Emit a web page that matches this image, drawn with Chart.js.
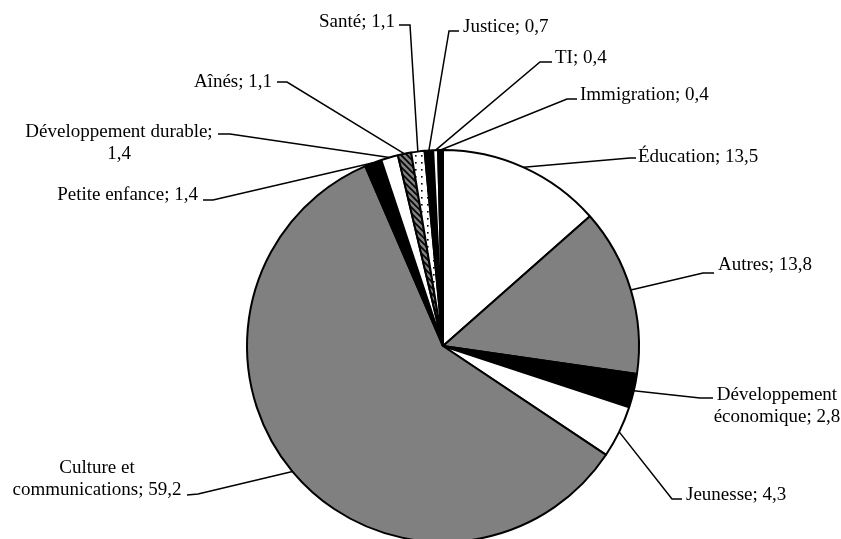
<!DOCTYPE html>
<html>
<head>
<meta charset="utf-8">
<script src="https://cdn.jsdelivr.net/npm/chart.js@4.4.0/dist/chart.umd.min.js"></script>
<style>
  html, body { margin: 0; padding: 0; background: #fff; overflow: hidden; }
  #wrap { width: 841px; height: 539px; overflow: hidden; }
  #graph { display: block; }
</style>
</head>
<body>
<div id="wrap"><canvas id="graph" width="841" height="600"></canvas></div>
<script>
// data, clockwise from 12 o'clock
var categories = ['Éducation', 'Autres', 'Développement économique', 'Jeunesse',
  'Culture et communications', 'Petite enfance', 'Développement durable', 'Aînés',
  'Santé', 'Justice', 'TI', 'Immigration'];
var shares = [13.5, 13.8, 2.8, 4.3, 59.2, 1.4, 1.4, 1.1, 1.1, 0.7, 0.4, 0.4];
// how many words go on the first line of a label (0 = one line)
var firstLineWords = [0, 0, 1, 0, 2, 0, 2, 0, 0, 0, 0, 0];

// label placement: text anchor (baseline of first line), leader elbow and end
var labelLayout = [
  { x: 638, y: 162, align: 'left',   elbow: [630, 158], end: [636, 158] },
  { x: 718, y: 270, align: 'left',   elbow: [703, 273], end: [714, 273] },
  { x: 777, y: 400, align: 'center', elbow: [700, 398], end: [713, 398] },
  { x: 686, y: 500, align: 'left',   elbow: [672, 499], end: [682, 499] },
  { x: 97,  y: 473, align: 'center', elbow: [198, 494], end: [187, 495] },
  { x: 198, y: 200, align: 'right',  elbow: [213, 200], end: [203, 200] },
  { x: 119, y: 137, align: 'center', elbow: [230, 134], end: [218, 134] },
  { x: 272, y: 87,  align: 'right',  elbow: [287, 82],  end: [277, 82] },
  { x: 395, y: 27,  align: 'right',  elbow: [410, 25],  end: [399, 25] },
  { x: 463, y: 32,  align: 'left',   elbow: [449, 31],  end: [459, 31] },
  { x: 555, y: 63,  align: 'left',   elbow: [540, 62],  end: [552, 62] },
  { x: 580, y: 100, align: 'left',   elbow: [567, 99],  end: [577, 99] }
];

function makeStripes() {
  var c = document.createElement('canvas');
  c.width = 6; c.height = 6;
  var g = c.getContext('2d');
  g.fillStyle = '#808080';
  g.fillRect(0, 0, 6, 6);
  g.strokeStyle = '#000';
  g.lineWidth = 1.6;
  g.beginPath();
  g.moveTo(-1, -1); g.lineTo(7, 7);
  g.moveTo(-4, 2); g.lineTo(4, 10);
  g.moveTo(2, -4); g.lineTo(10, 4);
  g.stroke();
  return g.createPattern(c, 'repeat');
}

function makeDots() {
  var c = document.createElement('canvas');
  c.width = 6; c.height = 7;
  var g = c.getContext('2d');
  g.fillStyle = '#fff';
  g.fillRect(0, 0, 6, 7);
  g.fillStyle = '#000';
  g.fillRect(1, 1, 1.6, 1.6);
  return g.createPattern(c, 'repeat');
}

var fills = ['#ffffff', '#808080', '#000000', '#ffffff', '#808080', '#000000',
  '#ffffff', makeStripes(), makeDots(), '#000000', '#ffffff', '#000000'];

function labelLines(i) {
  var text = categories[i] + '; ' + String(shares[i]).replace('.', ',');
  var n = firstLineWords[i];
  if (!n) return [text];
  var words = text.split(' ');
  return [words.slice(0, n).join(' '), words.slice(n).join(' ')];
}

var leaderLabels = {
  id: 'leaderLabels',
  afterDraw: function (chart) {
    var ctx = chart.ctx;
    var arcs = chart.getDatasetMeta(0).data;
    ctx.save();
    ctx.strokeStyle = '#000';
    ctx.lineWidth = 1.5;
    ctx.fillStyle = '#000';
    ctx.font = '19px "Liberation Serif", "Times New Roman", serif';
    ctx.textBaseline = 'alphabetic';
    arcs.forEach(function (arc, i) {
      var p = arc.getProps(['x', 'y', 'startAngle', 'endAngle', 'outerRadius'], true);
      var a = (p.startAngle + p.endAngle) / 2;
      var sx = p.x + Math.cos(a) * p.outerRadius;
      var sy = p.y + Math.sin(a) * p.outerRadius;
      var L = labelLayout[i];
      ctx.beginPath();
      ctx.moveTo(sx, sy);
      ctx.lineTo(L.elbow[0], L.elbow[1]);
      ctx.lineTo(L.end[0], L.end[1]);
      ctx.stroke();
      ctx.textAlign = L.align;
      labelLines(i).forEach(function (t, k) {
        ctx.fillText(t, L.x, L.y + k * 22);
      });
    });
    ctx.restore();
  }
};

var ctx = document.getElementById('graph').getContext('2d');
new Chart(ctx, {
  type: 'pie',
  data: {
    labels: categories,
    datasets: [{
      data: shares,
      backgroundColor: fills,
      borderColor: '#000',
      borderWidth: 2,
      hoverOffset: 0
    }]
  },
  options: {
    responsive: false,
    animation: false,
    radius: 196,
    layout: { padding: { left: 45, right: 0, top: 92, bottom: 0 } },
    plugins: {
      legend: { display: false },
      tooltip: { enabled: false }
    }
  },
  plugins: [leaderLabels]
});
</script>
</body>
</html>
